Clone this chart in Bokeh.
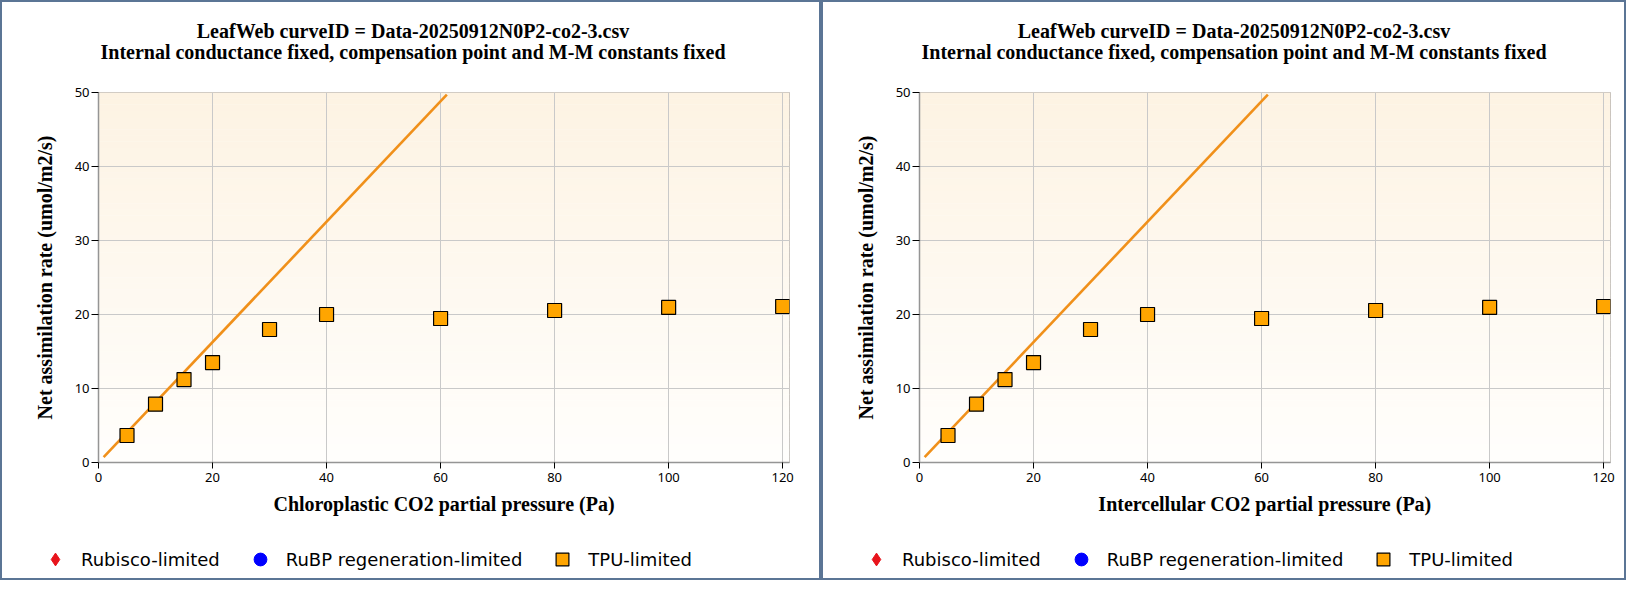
from bokeh.plotting import figure
from bokeh.layouts import row, column
from bokeh.models import Legend, LegendItem, Range1d, ColumnDataSource
from bokeh.core.properties import value
from bokeh.embed import file_html
from bokeh.resources import INLINE

# ---- data ----
co2_pressure = [5, 10, 15, 20, 30, 40, 60, 80, 100, 120]
net_assimilation = [3.65, 7.88, 11.2, 13.5, 17.97, 20.0, 19.46, 20.54, 20.95, 21.08]
model_line_x = [0.9, 61.1]
model_line_y = [0.72, 49.7]

x_ticks = [0, 20, 40, 60, 80, 100, 120]
y_ticks = [0, 10, 20, 30, 40, 50]
x_max = 121.2
y_max = 50

title_lines = ["LeafWeb curveID = Data-20250912N0P2-co2-3.csv",
               "Internal conductance fixed, compensation point and M-M constants fixed"]
x_labels = ["Chloroplastic CO2 partial pressure (Pa)",
            "Intercellular CO2 partial pressure (Pa)"]
y_label = "Net assimilation rate (umol/m2/s)"
legend_labels = ["Rubisco-limited", "RuBP regeneration-limited", "TPU-limited"]

SERIF = "Liberation Serif"
SANS = "DejaVu Sans"
TICKF = "Noto Sans"
BORDER = "2px solid #5b7595"
TOP_BG = (253, 243, 227)
BOT_BG = (255, 254, 252)
NAN = float("nan")

H_HEAD, H_MAIN, H_LEG = 70, 454, 56


def blank_fig(width, height, styles):
    f = figure(width=width, height=height, output_backend="svg", toolbar_location=None,
               x_range=Range1d(0, width), y_range=Range1d(0, height),
               x_axis_location=None, y_axis_location=None, title=None,
               min_border=0, min_border_left=0, min_border_right=0,
               min_border_top=0, min_border_bottom=0,
               background_fill_color="white", border_fill_color="white",
               styles=styles)
    f.frame_align = False
    f.outline_line_color = None
    f.grid.visible = False
    return f


def make_header(width, cx):
    h = blank_fig(width, H_HEAD, {"border-top": BORDER, "border-left": BORDER,
                                  "border-right": BORDER})
    src = ColumnDataSource(dict(x=[cx, cx], y=[41.8, 20.1], t=title_lines))
    h.text("x", "y", text="t", source=src, text_align="center",
           text_baseline="alphabetic", text_font=value(SERIF),
           text_font_style="bold", text_font_size="20px", text_color="black")
    return h


def make_legend_fig(width, lx):
    lf = blank_fig(width, H_LEG, {"border-bottom": BORDER, "border-left": BORDER,
                                  "border-right": BORDER})
    hidden = ColumnDataSource(dict(x=[NAN], y=[NAN]))
    r1 = lf.scatter("x", "y", source=hidden, marker="diamond",
                    fill_color="#e8141c", line_color="#e8141c")
    r2 = lf.scatter("x", "y", source=hidden, marker="circle",
                    fill_color="#0000ff", line_color="#0000ff")
    r3 = lf.scatter("x", "y", source=hidden, marker="square",
                    fill_color="#ffa500", line_color="black", line_width=1.2)
    legend = Legend(items=[LegendItem(label=legend_labels[0], renderers=[r1]),
                           LegendItem(label=legend_labels[1], renderers=[r2]),
                           LegendItem(label=legend_labels[2], renderers=[r3])],
                    orientation="horizontal", location=(lx, 5),
                    glyph_width=32, glyph_height=32, label_standoff=10,
                    spacing=24, padding=0, margin=0,
                    label_text_font=SANS, label_text_font_size="18px",
                    label_text_color="black",
                    border_line_color=None, background_fill_alpha=0)
    lf.add_layout(legend, "center")
    return lf


def make_main(width, xlabel, min_left, min_right):
    p = figure(width=width, height=H_MAIN, output_backend="svg", toolbar_location=None,
               x_range=Range1d(0, x_max), y_range=Range1d(0, y_max), title=None,
               min_border_left=min_left, min_border_right=min_right,
               min_border_top=22, min_border_bottom=62,
               background_fill_color="white", border_fill_color="white",
               styles={"border-left": BORDER, "border-right": BORDER})
    p.frame_align = False
    p.outline_line_color = "#b8b4b0"
    p.outline_line_width = 1

    # vertical background gradient (cream at top -> white at bottom)
    nb = 60
    lefts, rights, bottoms, tops, cols = [], [], [], [], []
    for i in range(nb):
        f = i / (nb - 1)
        r = round(BOT_BG[0] + (TOP_BG[0] - BOT_BG[0]) * f)
        g = round(BOT_BG[1] + (TOP_BG[1] - BOT_BG[1]) * f)
        b = round(BOT_BG[2] + (TOP_BG[2] - BOT_BG[2]) * f)
        lefts.append(0)
        rights.append(x_max)
        bottoms.append(y_max * i / nb)
        tops.append(y_max * (i + 1) / nb + 0.05)
        cols.append("#%02x%02x%02x" % (r, g, b))
    p.quad(left=lefts, right=rights, bottom=bottoms, top=tops,
           fill_color=cols, line_color=None, level="image")

    p.grid.grid_line_color = "#c9c9c9"
    p.grid.grid_line_width = 1
    p.xaxis.ticker = x_ticks
    p.yaxis.ticker = y_ticks

    for ax in (p.xaxis, p.yaxis):
        ax.axis_line_color = "#959595"
        ax.axis_line_width = 1.5
        ax.major_tick_line_color = "black"
        ax.major_tick_in = 0
        ax.minor_tick_line_color = None
        ax.major_label_text_font = TICKF
        ax.major_label_text_font_size = "13px"
        ax.major_label_text_color = "black"
        ax.axis_label_text_font = SERIF
        ax.axis_label_text_font_style = "bold"
        ax.axis_label_text_font_size = "20px"
        ax.axis_label_text_color = "black"
    p.xaxis.major_tick_out = 6
    p.yaxis.major_tick_out = 7
    p.xaxis.major_label_standoff = 4
    p.yaxis.major_label_standoff = 2
    p.xaxis.axis_label = xlabel
    p.yaxis.axis_label = y_label
    p.xaxis.axis_label_standoff = 8
    p.yaxis.axis_label_standoff = 16

    p.line(model_line_x, model_line_y, line_color="#f0901a", line_width=2.6)

    src = ColumnDataSource(dict(x=co2_pressure, y=net_assimilation))
    p.scatter("x", "y", source=src, marker="square", size=14,
              fill_color="#ffa500", line_color="black", line_width=1.2)
    return p


W1, W2 = 821, 805
panel1 = column(make_header(W1, 410.5), make_main(W1, x_labels[0], 96, 34),
                make_legend_fig(W1, 37), spacing=0)
panel2 = column(make_header(W2, 410.5), make_main(W2, x_labels[1], 96, 18),
                make_legend_fig(W2, 37), spacing=0)
layout = row(panel1, panel2, spacing=0)

open("out.html", "w").write(file_html(layout, INLINE))
